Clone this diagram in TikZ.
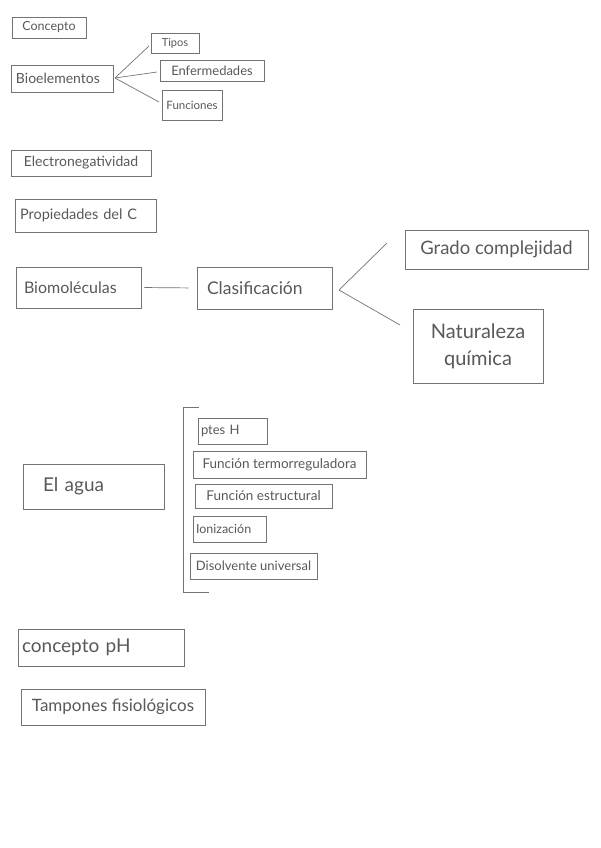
\documentclass[tikz,border=0pt]{standalone}
\usepackage{fontspec}
\setmainfont{Lato}
\begin{document}
\begin{tikzpicture}[x=1pt,y=-1pt,
  box/.style={draw=black!55,line width=0.7pt,text=black!65,inner sep=0pt,align=center,anchor=center},
  lt/.style={text width=#1,align=left},
  con/.style={draw=black!55,line width=0.7pt},
  fs/.style={font=\fontsize{#1}{#1}\selectfont}]
\useasboundingbox[fill=white] (0,0) rectangle (600,848);
% top block
\node[box,fs=12.5,minimum width=74,minimum height=21] (concepto) at (49,27.5) {Concepto};
\node[box,fs=14,minimum width=102,minimum height=27,lt=92] (bioel) at (62,78.5) {Bioelementos};
\node[box,fs=11,minimum width=48,minimum height=20] (tipos) at (175,43) {Tipos};
\node[box,fs=13,minimum width=104,minimum height=21] (enferm) at (212,70.5) {Enfermedades};
\node[box,fs=11.5,minimum width=60,minimum height=30] (func) at (192,105) {Funciones};
\coordinate (bj) at (115,78);
\coordinate (bt) at (149,46);
\coordinate (be) at (157,72);
\coordinate (bf) at (159,102);
\draw[con] (bj) -- (bt);
\draw[con] (bj) -- (be);
\draw[con] (bj) -- (bf);
\node[box,fs=14,minimum width=140,minimum height=26] (electro) at (81,163) {Electronegatividad};
\node[box,fs=14.5,minimum width=141,minimum height=33,lt=131] (propc) at (85.5,215.5) {Propiedades del C};
% biomoleculas
\node[box,fs=16,minimum width=125,minimum height=41,lt=109] (biomol) at (78.5,287.5) {Biomoléculas};
\node[box,fs=17.5,minimum width=135,minimum height=42,lt=115] (clasif) at (264.5,288) {Clasificación};
\node[box,fs=18.5,minimum width=183,minimum height=39] (grado) at (496.5,249.5) {Grado complejidad};
\node[box,fs=20,minimum width=130,minimum height=74] (natur) at (478,346) {Naturaleza\\[7pt]química};
\draw[con,shorten <=3pt,shorten >=8pt] (biomol.east) -- (clasif.west);
\coordinate (cj) at (339,290);
\coordinate (cg) at (387,243);
\coordinate (cn) at (400,325);
\draw[con] (cj) -- (cg);
\draw[con] (cj) -- (cn);
% agua
\node[box,fs=19,minimum width=141,minimum height=45,lt=101] (agua) at (93.5,486.5) {El agua};
\node[box,fs=13,minimum width=69,minimum height=26,lt=63] (ptes) at (232.5,431) {ptes H};
\node[box,fs=13.5,minimum width=173,minimum height=27] (termo) at (279.5,464.5) {Función termorreguladora};
\node[box,fs=13.5,minimum width=137,minimum height=24] (estruct) at (263.5,496) {Función estructural};
\node[box,fs=12.5,minimum width=73,minimum height=26,lt=67] (ioniz) at (229.5,529) {Ionización};
\node[box,fs=13,minimum width=127,minimum height=26] (disolv) at (253.5,566) {Disolvente universal};
\coordinate (bra) at (199,407);
\coordinate (brb) at (183,407);
\coordinate (brc) at (183,592);
\coordinate (brd) at (209,592);
\draw[con] (bra) -- (brb) -- (brc) -- (brd);
% pH
\node[box,fs=19,minimum width=166,minimum height=37,lt=158] (ph) at (101,647.5) {concepto pH};
\node[box,fs=17,minimum width=184,minimum height=36] (tamp) at (113,707) {Tampones fisiológicos};
\end{tikzpicture}
\end{document}
